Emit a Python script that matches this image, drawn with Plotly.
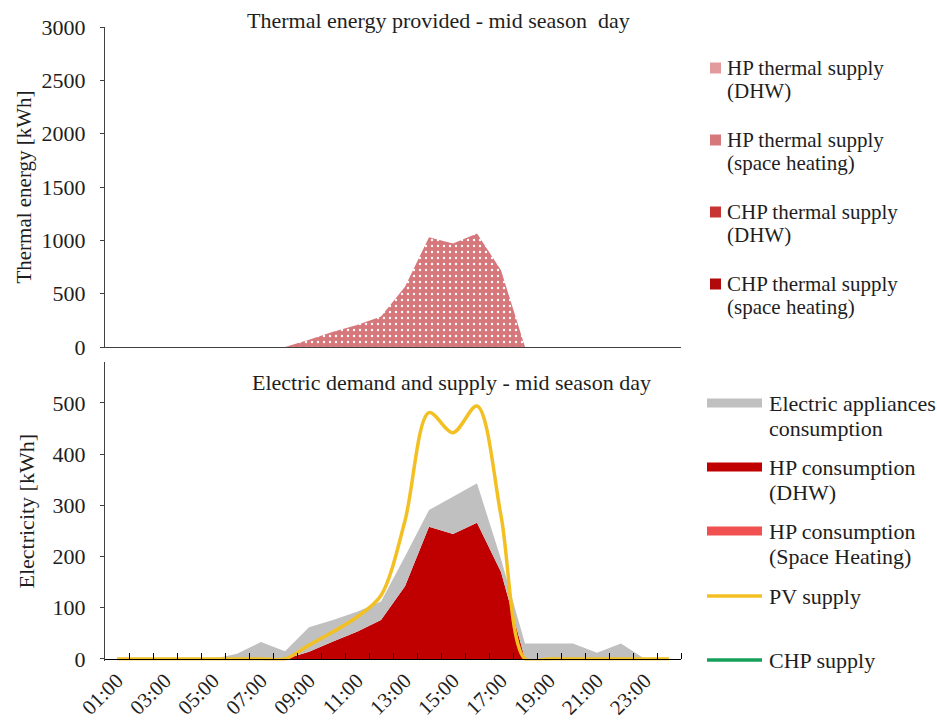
import plotly.graph_objects as go

# ---------------- data ----------------
hours = ["01:00", "02:00", "03:00", "04:00", "05:00", "06:00", "07:00", "08:00",
         "09:00", "10:00", "11:00", "12:00", "13:00", "14:00", "15:00", "16:00",
         "17:00", "18:00", "19:00", "20:00", "21:00", "22:00", "23:00", "24:00"]
hour_index = [0, 1, 2, 3, 4, 5, 6, 7, 8, 9, 10, 11, 12, 13, 14, 15, 16, 17, 18, 19, 20, 21, 22, 23]
tick_positions = [0, 2, 4, 6, 8, 10, 12, 14, 16, 18, 20, 22]
tick_labels = ["01:00", "03:00", "05:00", "07:00", "09:00", "11:00",
               "13:00", "15:00", "17:00", "19:00", "21:00", "23:00"]
boundary_ticks = [0.5, 1.5, 2.5, 3.5, 4.5, 5.5, 6.5, 7.5, 8.5, 9.5, 10.5, 11.5,
                  12.5, 13.5, 14.5, 15.5, 16.5, 17.5, 18.5, 19.5, 20.5, 21.5, 22.5, 23.5]

# Thermal energy provided [kWh]
hp_thermal_dhw = [0, 0, 0, 0, 0, 0, 0, 0, 0, 0, 0, 0, 0, 0, 0, 0, 0, 0, 0, 0, 0, 0, 0, 0]
hp_thermal_sh = [0, 0, 0, 0, 0, 0, 0, 0, 68, 144, 206, 285, 565, 1030, 970, 1065, 720, 0, 0, 0, 0, 0, 0, 0]
chp_thermal_dhw = [0, 0, 0, 0, 0, 0, 0, 0, 0, 0, 0, 0, 0, 0, 0, 0, 0, 0, 0, 0, 0, 0, 0, 0]
chp_thermal_sh = [0, 0, 0, 0, 0, 0, 0, 0, 0, 0, 0, 0, 0, 0, 0, 0, 0, 0, 0, 0, 0, 0, 0, 0]

# Electricity [kWh]
hp_cons_dhw = [0, 0, 0, 0, 0, 0, 0, 0, 14, 34, 53, 76, 142, 258, 244, 266, 170, 0, 0, 0, 0, 0, 0, 0]
hp_cons_sh = [0, 0, 0, 0, 0, 0, 0, 0, 0, 0, 0, 0, 0, 0, 0, 0, 0, 0, 0, 0, 0, 0, 0, 0]
appliances = [0, 0, 0, 0, 0, 10, 33, 15, 48, 42, 39, 36, 58, 33, 73, 77, 25, 30, 30, 30, 12, 30, 0, 0]
pv_supply = [0, 0, 0, 0, 0, 0, 0, 0, 27, 53, 82, 124, 270, 481, 442, 494, 280, 0, 0, 0, 0, 0, 0, 0]
chp_supply = [0, 0, 0, 0, 0, 0, 0, 0, 0, 0, 0, 0, 0, 0, 0, 0, 0, 0, 0, 0, 0, 0, 0, 0]

# ---------------- styling ----------------
W, H = 937, 726
FONT = '"Liberation Serif", "Times New Roman", Times, serif'
TXT = "#1e1e1e"
AX = "#404040"

C_HP_DHW_T = "#e39a9c"
C_HP_SH_T = "#d6777b"
C_CHP_DHW_T = "#c83434"
C_CHP_SH_T = "#b20a0a"
C_GRAY = "#c0c0c0"
C_HP_DHW_E = "#c00000"
C_HP_SH_E = "#f05050"
C_PV = "#f3c023"
C_CHP = "#15a05a"


def px(x):
    return x / W


def py(y):
    return 1 - y / H


X0, X1 = 105, 681
top_dom = [py(347), py(27)]
bot_dom = [py(660.5), py(362)]

fig = go.Figure()

# ---- top chart: thermal energy (stacked areas) ----
for name, vals, col, pat in [
    ("HP thermal supply (DHW)", hp_thermal_dhw, C_HP_DHW_T, False),
    ("HP thermal supply (space heating)", hp_thermal_sh, C_HP_SH_T, True),
    ("CHP thermal supply (DHW)", chp_thermal_dhw, C_CHP_DHW_T, False),
    ("CHP thermal supply (space heating)", chp_thermal_sh, C_CHP_SH_T, False),
]:
    kw = {}
    if pat:
        kw["fillpattern"] = dict(shape=".", bgcolor=col, fgcolor="#ffffff",
                                 size=6, solidity=0.12, fillmode="replace")
    fig.add_trace(go.Scatter(
        x=hour_index, y=vals, name=name, stackgroup="thermal", mode="none",
        fillcolor=col, xaxis="x", yaxis="y", showlegend=False, **kw))

# ---- bottom chart: electricity ----
fig.add_trace(go.Scatter(
    x=hour_index, y=chp_supply, name="CHP supply", mode="lines",
    line=dict(color=C_CHP, width=1), xaxis="x2", yaxis="y2", showlegend=False))
for name, vals, col in [
    ("HP consumption (DHW)", hp_cons_dhw, C_HP_DHW_E),
    ("HP consumption (Space Heating)", hp_cons_sh, C_HP_SH_E),
    ("Electric appliances consumption", appliances, C_GRAY),
]:
    fig.add_trace(go.Scatter(
        x=hour_index, y=vals, name=name, stackgroup="elec", mode="none",
        fillcolor=col, xaxis="x2", yaxis="y2", showlegend=False))
fig.add_trace(go.Scatter(
    x=hour_index, y=pv_supply, name="PV supply", mode="lines",
    line=dict(color=C_PV, width=3.5, shape="spline", smoothing=0.9),
    xaxis="x2", yaxis="y2", showlegend=False))

tickfont = dict(family=FONT, size=22, color=TXT)

fig.update_layout(
    width=W, height=H,
    margin=dict(l=0, r=0, t=0, b=0, autoexpand=False),
    paper_bgcolor="white", plot_bgcolor="white",
    font=dict(family=FONT, size=22, color=TXT),
    xaxis=dict(domain=[px(X0), px(X1)], range=[-0.5, 23.5], anchor="y",
               showline=True, linecolor=AX, linewidth=1, showticklabels=False,
               ticks="", showgrid=False, zeroline=False, automargin=False),
    yaxis=dict(domain=top_dom, range=[0, 3000], dtick=500, anchor="x",
               showline=True, linecolor=AX, linewidth=1, ticks="outside",
               ticklen=4, tickcolor=AX, tickfont=tickfont, showgrid=False,
               zeroline=False, ticklabelstandoff=10, automargin=False,
               title=dict(text="Thermal energy [kWh]", font=dict(family=FONT, size=21, color=TXT),
                          standoff=4)),
    xaxis2=dict(domain=[px(X0), px(X1)], range=[-0.5, 23.5], anchor="free",
                position=py(659), showline=True, linecolor="#000000", linewidth=1,
                tickmode="array", tickvals=tick_positions, ticktext=tick_labels,
                tickangle=-45, ticks="", tickfont=dict(family=FONT, size=21, color=TXT),
                minor=dict(ticks="inside", ticklen=6, tickwidth=1.3, tickcolor="#000000",
                           tickmode="array", tickvals=boundary_ticks, showgrid=False),
                showgrid=False, zeroline=False, layer="above traces", automargin=False),
    yaxis2=dict(domain=bot_dom, range=[-3, 580], tickvals=[0, 100, 200, 300, 400, 500],
                anchor="x2", showline=True, linecolor=AX, linewidth=1,
                ticks="outside", ticklen=4, tickcolor=AX, tickfont=tickfont,
                showgrid=False, zeroline=False, ticklabelstandoff=10, automargin=False,
                title=dict(text="Electricity [kWh]", font=dict(family=FONT, size=22, color=TXT),
                           standoff=11)),
)

annotations = [
    dict(text="Thermal energy provided - mid season  day", x=px(438), y=py(20)),
    dict(text="Electric demand and supply - mid season day", x=px(451), y=py(382)),
]
for a in annotations:
    a.update(xref="paper", yref="paper", showarrow=False, xanchor="center",
             yanchor="middle", font=dict(family=FONT, size=22, color=TXT))

shapes = []

# ---- top legend ----
top_items = [
    ("HP thermal supply", "(DHW)", C_HP_DHW_T, 68),
    ("HP thermal supply", "(space heating)", C_HP_SH_T, 140),
    ("CHP thermal supply", "(DHW)", C_CHP_DHW_T, 212),
    ("CHP thermal supply", "(space heating)", C_CHP_SH_T, 284),
]
for l1, l2, col, yy in top_items:
    shapes.append(dict(type="rect", xref="paper", yref="paper",
                       x0=px(710), x1=px(721), y0=py(yy + 5.5), y1=py(yy - 5.5),
                       fillcolor=col, line=dict(width=0)))
    for t, dy in ((l1, 0), (l2, 22.5)):
        annotations.append(dict(text=t, x=px(725), y=py(yy + dy), xref="paper", yref="paper",
                                showarrow=False, xanchor="left", yanchor="middle",
                                font=dict(family=FONT, size=21, color=TXT)))

# ---- bottom legend ----
bot_items = [
    ("Electric appliances", "consumption", C_GRAY, 403, "bar"),
    ("HP consumption", "(DHW)", C_HP_DHW_E, 467, "bar"),
    ("HP consumption", "(Space Heating)", C_HP_SH_E, 531, "bar"),
    ("PV supply", None, C_PV, 596, "line"),
    ("CHP supply", None, C_CHP, 660, "line"),
]
for l1, l2, col, yy, kind in bot_items:
    if kind == "bar":
        shapes.append(dict(type="rect", xref="paper", yref="paper",
                           x0=px(707), x1=px(762), y0=py(yy + 4.5), y1=py(yy - 4.5),
                           fillcolor=col, line=dict(width=0)))
    else:
        shapes.append(dict(type="line", xref="paper", yref="paper",
                           x0=px(707), x1=px(762), y0=py(yy), y1=py(yy),
                           line=dict(color=col, width=3.5)))
    lines = [(l1, 0)] + ([(l2, 25)] if l2 else [])
    for t, dy in lines:
        annotations.append(dict(text=t, x=px(767), y=py(yy + dy), xref="paper", yref="paper",
                                showarrow=False, xanchor="left", yanchor="middle",
                                font=dict(family=FONT, size=22, color=TXT)))

fig.update_layout(annotations=annotations, shapes=shapes)

fig.write_html("out.html", config={"displayModeBar": False},
               post_script="document.body.style.margin='0px';")
